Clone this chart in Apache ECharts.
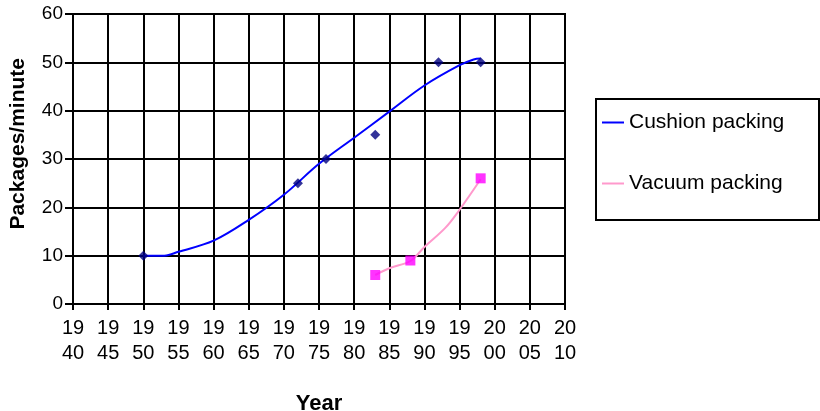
<!DOCTYPE html>
<html><head><meta charset="utf-8">
<script src="https://cdn.jsdelivr.net/npm/echarts@6/dist/echarts.min.js"></script>
<style>html,body{margin:0;padding:0;background:#fff}#c{width:820px;height:411px}</style>
</head><body><div id="c"></div>
<script>
// Observed data points
const cushionYears = [1950, 1972, 1976, 1983, 1992, 1998];
const cushionValues = [10, 25, 30, 35, 50, 50];
const vacuumYears = [1983, 1988, 1998];
const vacuumValues = [6, 9, 26];
// Trendlines
const cushionTrendYears = [1950, 1953, 1955, 1960, 1965, 1970, 1975, 1980, 1985, 1990, 1995, 1997, 1998];
const cushionTrendValues = [10, 10, 10.8, 13.1, 17.4, 22.6, 29.0, 34.4, 39.8, 45.2, 49.4, 50.6, 50.8];
const vacuumTrendYears = [1983, 1985, 1988, 1990, 1993, 1995, 1998];
const vacuumTrendValues = [6, 7.4, 8.9, 11.8, 15.8, 19.5, 25.8];
const seriesNames = ['Cushion packing', 'Vacuum packing'];

const zip = (xs, ys) => xs.map((x, i) => [x, ys[i]]);
const FONT = 'Liberation Sans';

const chart = echarts.init(document.getElementById('c'), null, {renderer: 'canvas'});
chart.setOption({
  animation: false,
  backgroundColor: '#fff',
  textStyle: {fontFamily: FONT},
  grid: {left: 73, right: 255, top: 14, bottom: 107, show: true, borderColor: '#000', borderWidth: 2,
         containLabel: false, outerBoundsMode: 'none'},
  xAxis: {
    type: 'value', min: 1940, max: 2010, interval: 5,
    name: 'Year', nameLocation: 'middle', nameGap: 89,
    nameTextStyle: {fontFamily: FONT, fontSize: 22, fontWeight: 'bold', color: '#000'},
    axisLine: {lineStyle: {color: '#000', width: 2}},
    axisTick: {show: true, length: 6, lineStyle: {color: '#000', width: 2}},
    splitLine: {show: true, lineStyle: {color: '#000', width: 2}},
    axisLabel: {
      fontFamily: FONT, fontSize: 20, color: '#000', lineHeight: 25, margin: 12,
      formatter: v => { const s = String(v); return s.slice(0, 2) + '\n' + s.slice(2); }
    }
  },
  yAxis: {
    type: 'value', min: 0, max: 60, interval: 10,
    axisLine: {show: true, lineStyle: {color: '#000', width: 2}},
    axisTick: {show: true, length: 8, lineStyle: {color: '#000', width: 2}},
    splitLine: {show: true, lineStyle: {color: '#000', width: 2}},
    axisLabel: {fontFamily: FONT, fontSize: 19, color: '#000', margin: 10}
  },
  legend: {
    orient: 'vertical', left: 595, top: 98,
    data: seriesNames,
    padding: [14, 10, 10, 7],
    itemGap: 40, itemWidth: 22, itemHeight: 2,
    textStyle: {fontFamily: FONT, fontSize: 21, color: '#000', lineHeight: 21},
    icon: 'rect'
  },
  graphic: [
    {
      type: 'rect', left: 595, top: 98, z: 0,
      shape: {x: 0, y: 0, width: 223, height: 121},
      style: {fill: '#fff', stroke: '#000', lineWidth: 2}
    },
    {
      type: 'text', left: 8, top: 58,
      rotation: Math.PI / 2,
      style: {text: 'Packages/minute', font: 'bold 21px "Liberation Sans"', fill: '#000'}
    }
  ],
  series: [
    {
      name: seriesNames[0], type: 'line', data: zip(cushionTrendYears, cushionTrendValues),
      smooth: 0.35, showSymbol: false, symbol: 'none',
      lineStyle: {color: '#0000FF', width: 2}, itemStyle: {color: '#0000FF'}, z: 3
    },
    {
      name: seriesNames[1], type: 'line', data: zip(vacuumTrendYears, vacuumTrendValues),
      smooth: 0.35, showSymbol: false, symbol: 'none',
      lineStyle: {color: '#FF99CC', width: 2}, itemStyle: {color: '#FF99CC'}, z: 3
    },
    {
      name: 'cushionPts', type: 'scatter', data: zip(cushionYears, cushionValues),
      symbol: 'diamond', symbolSize: 10, itemStyle: {color: '#000080'}, z: 4
    },
    {
      name: 'vacuumPts', type: 'scatter', data: zip(vacuumYears, vacuumValues),
      symbol: 'rect', symbolSize: 10, itemStyle: {color: '#FF00FF'}, z: 4
    }
  ]
});
</script>
</body></html>
